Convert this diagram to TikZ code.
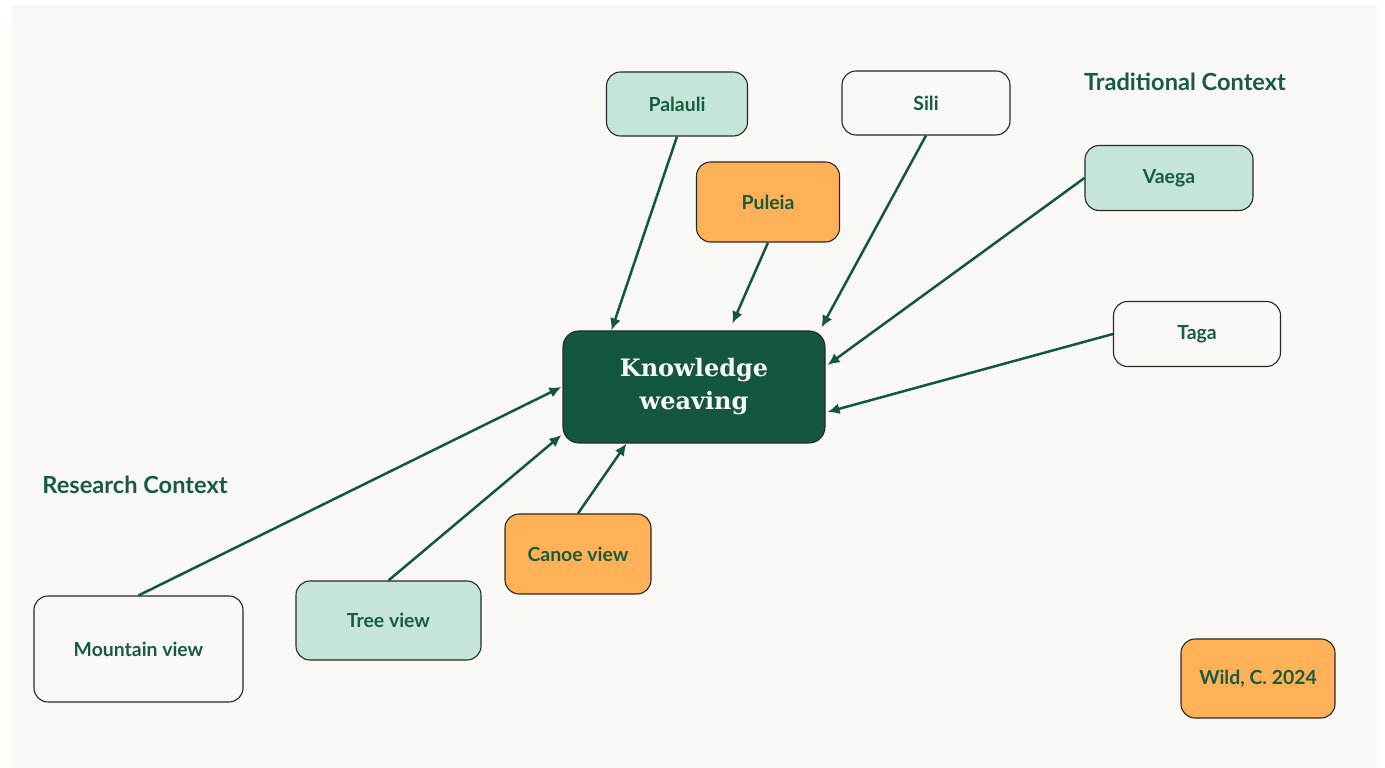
\documentclass[tikz,border=0pt]{standalone}
\usepackage{fontspec}
\setmainfont{Lato}
\newfontfamily\titlefont{DejaVu Serif}
\usepackage{tikz}
\usetikzlibrary{arrows.meta}

\definecolor{pageColor}{RGB}{250,248,244}
\definecolor{textColor}{RGB}{24,92,64}
\definecolor{darkColor}{RGB}{19,87,61}
\definecolor{mintColor}{RGB}{197,229,217}
\definecolor{orangeColor}{RGB}{255,177,87}
\definecolor{edgeColor}{RGB}{40,40,40}

\tikzset{
  box/.style={draw=edgeColor,line width=1.1pt,rounded corners=14pt,inner sep=0pt,
    text=textColor,font=\bfseries\fontsize{19.4}{23}\selectfont,align=center},
  mint/.style={box,fill=mintColor},
  plain/.style={box,fill=pageColor},
  orange/.style={box,fill=orangeColor},
  heading/.style={text=textColor,font=\bfseries\fontsize{23.6}{28}\selectfont,inner sep=0pt},
  link/.style={draw=darkColor,line width=2.5pt,-{Latex[length=12pt,width=11pt]}}
}

\begin{document}
\begin{tikzpicture}[x=1pt,y=1pt]
\path[use as bounding box,fill=white] (0,0) rectangle (1385,768);
\path[fill=pageColor] (12,0) rectangle (1377,763);

% centre
\node[box,fill=darkColor,draw=edgeColor,rounded corners=16pt,minimum width=262pt,minimum height=112pt,
  text=pageColor,font=\titlefont\bfseries\fontsize{24}{33}\selectfont] (kw) at (694,381) {Knowledge\\weaving};

% traditional side
\node[mint,minimum width=141pt,minimum height=64pt] (palauli) at (677,664) {Palauli};
\node[plain,minimum width=168pt,minimum height=64pt] (sili) at (926,665) {Sili};
\node[orange,minimum width=143pt,minimum height=80pt] (puleia) at (768,566) {Puleia};
\node[mint,minimum width=168pt,minimum height=65pt] (vaega) at (1169,590) {Vaega};
\node[plain,minimum width=167pt,minimum height=65pt] (taga) at (1197,434) {Taga};
\node[heading] (trad) at (1185,686) {Traditional Context};

% research side
\node[plain,minimum width=209pt,minimum height=106pt] (mountain) at (138.5,119) {Mountain view};
\node[mint,minimum width=185pt,minimum height=79pt] (tree) at (388.5,147.5) {Tree view};
\node[orange,minimum width=146pt,minimum height=80pt] (canoe) at (578,214) {Canoe view};
\node[heading] (research) at (135,283) {Research Context};

\node[orange,minimum width=154pt,minimum height=79pt] (wild) at (1258,89.5) {Wild, C. 2024};

% connectors
\draw[link] (palauli.south) -- ([xshift=49pt]kw.north west);
\draw[link] (puleia.south) -- ([xshift=170pt,yshift=7pt]kw.north west);
\draw[link] (sili.south) -- ([xshift=259pt,yshift=3pt]kw.north west);
\draw[link] (vaega.west) -- ([xshift=2pt,yshift=22pt]kw.east);
\draw[link] (taga.west) -- ([xshift=2pt,yshift=-25pt]kw.east);
\draw[link] (mountain.north) -- ([xshift=-1pt]kw.west);
\draw[link] (tree.north) -- ([xshift=-1pt,yshift=-48pt]kw.west);
\draw[link] (canoe.north) -- ([xshift=64pt]kw.south west);
\end{tikzpicture}
\end{document}
